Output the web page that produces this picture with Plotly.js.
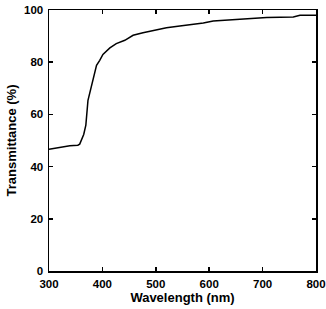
<!DOCTYPE html>
<html><head><meta charset="utf-8">
<script src="https://cdn.plot.ly/plotly-3.0.1.min.js"></script>
<style>html,body{margin:0;padding:0;background:#fff;}#chart{width:326px;height:309px;}</style>
</head><body><div id="chart"></div>
<script>
const wavelength = [300, 326, 339, 354, 357.5, 365, 369, 373, 377.5, 382.5, 389, 395, 401, 414, 426, 442, 457.5, 476, 501, 520, 545, 570, 589, 607.5, 645, 682.5, 707.5, 757.5, 770, 800];
const transmittance = [46.6, 47.6, 48.0, 48.2, 48.6, 52.3, 55.9, 65.4, 69.3, 74.4, 78.8, 80.7, 83.0, 85.5, 87.1, 88.4, 90.3, 91.3, 92.5, 93.2, 93.9, 94.5, 95.0, 95.8, 96.3, 96.7, 97.1, 97.3, 97.96, 97.96];
const xTicks = [300, 400, 500, 600, 700, 800];
const yTicks = [0, 20, 40, 60, 80, 100];

const fontFam = "Liberation Sans, Arial, sans-serif";
const axisCommon = {
  showline: true, linecolor: '#000', linewidth: 1.5, mirror: 'ticks',
  ticks: 'inside', ticklen: 4, tickwidth: 1.5, tickcolor: '#000',
  showgrid: false, zeroline: false, ticklabeloverflow: 'allow',
  tickfont: {family: fontFam, size: 11.5, color: '#000', weight: 'bold'}
};
Plotly.newPlot('chart', [{
  x: wavelength, y: transmittance, type: 'scatter', mode: 'lines',
  line: {color: '#000', width: 1.5}
}], {
  width: 326, height: 309,
  margin: {l: 49, r: 10, t: 10, b: 38},
  paper_bgcolor: '#fff', plot_bgcolor: '#fff',
  showlegend: false,
  xaxis: Object.assign({}, axisCommon, {
    range: [300, 800], tickvals: xTicks, ticktext: xTicks.map(String), ticklabelstandoff: 2,
    title: {text: 'Wavelength (nm)', font: {family: fontFam, size: 13, color: '#000', weight: 'bold'}, standoff: 0}
  }),
  yaxis: Object.assign({}, axisCommon, {
    range: [0, 100], tickvals: yTicks, ticktext: yTicks.map(String), ticklabelstandoff: 2,
    title: {text: 'Transmittance (%)', font: {family: fontFam, size: 13, color: '#000', weight: 'bold'}, standoff: 4}
  })
}, {displayModeBar: false, staticPlot: true});
</script></body></html>
